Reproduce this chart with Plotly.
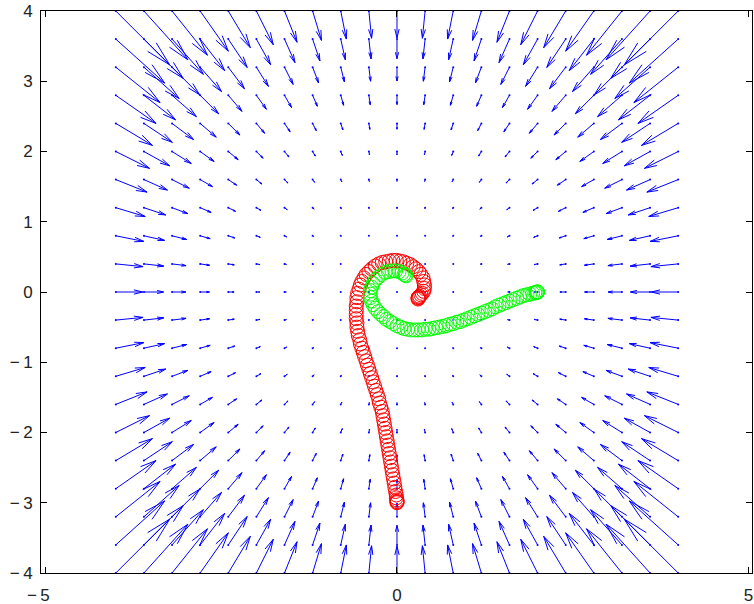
import numpy as np
import plotly.graph_objects as go

# ---- data ----
grid_x = [-4.0, -3.6, -3.2, -2.8, -2.4, -2.0, -1.6, -1.2, -0.8, -0.4, 0.0,
          0.4, 0.8, 1.2, 1.6, 2.0, 2.4, 2.8, 3.2, 3.6, 4.0]
grid_y = list(grid_x)
field_gain = 0.006  # arrow length = gain * r^3, pointing to origin

red_x = [0.00, 0.00, 0.00, 0.00, -0.01, -0.01, -0.02, -0.03, -0.04, -0.05,
         -0.06, -0.07, -0.08, -0.09, -0.10, -0.11, -0.12, -0.13, -0.14, -0.15,
         -0.16, -0.17, -0.18, -0.19, -0.20, -0.21, -0.23, -0.25, -0.26, -0.28,
         -0.30, -0.32, -0.34, -0.36, -0.38, -0.40, -0.42, -0.44, -0.46, -0.48,
         -0.50, -0.52, -0.53, -0.55, -0.56, -0.57, -0.57, -0.58, -0.58, -0.58,
         -0.58, -0.57, -0.57, -0.56, -0.54, -0.52, -0.50, -0.47, -0.44, -0.40,
         -0.36, -0.31, -0.26, -0.21, -0.16, -0.11, -0.06, -0.01, 0.04, 0.09,
         0.14, 0.19, 0.23, 0.27, 0.31, 0.34, 0.37, 0.38, 0.39, 0.39,
         0.38, 0.36, 0.34, 0.32, 0.31, 0.30, 0.30, 0.30]
red_y = [-3.00, -2.99, -2.98, -2.96, -2.93, -2.89, -2.84, -2.78, -2.72, -2.66,
         -2.60, -2.54, -2.48, -2.42, -2.36, -2.30, -2.24, -2.18, -2.12, -2.06,
         -2.00, -1.94, -1.88, -1.82, -1.76, -1.70, -1.64, -1.58, -1.52, -1.46,
         -1.40, -1.34, -1.28, -1.22, -1.16, -1.10, -1.04, -0.98, -0.92, -0.86,
         -0.80, -0.74, -0.68, -0.62, -0.56, -0.50, -0.44, -0.38, -0.32, -0.26,
         -0.20, -0.14, -0.08, -0.02, 0.04, 0.10, 0.15, 0.20, 0.25, 0.29,
         0.33, 0.37, 0.40, 0.42, 0.43, 0.44, 0.45, 0.45, 0.44, 0.43,
         0.41, 0.39, 0.36, 0.33, 0.29, 0.25, 0.20, 0.15, 0.10, 0.05,
         0.01, -0.02, -0.04, -0.06, -0.07, -0.08, -0.09, -0.10]

green_x = [2.00, 2.00, 1.99, 1.98, 1.96, 1.93, 1.89, 1.85, 1.80, 1.75,
           1.70, 1.65, 1.60, 1.55, 1.50, 1.45, 1.40, 1.35, 1.30, 1.25,
           1.20, 1.15, 1.10, 1.05, 1.00, 0.95, 0.90, 0.85, 0.80, 0.75,
           0.70, 0.65, 0.60, 0.55, 0.50, 0.45, 0.40, 0.35, 0.30, 0.25,
           0.20, 0.15, 0.10, 0.05, 0.00, -0.05, -0.10, -0.15, -0.19, -0.23,
           -0.27, -0.31, -0.34, -0.36, -0.38, -0.38, -0.38, -0.36, -0.34, -0.31,
           -0.27, -0.22, -0.17, -0.12, -0.07, -0.02, 0.03, 0.07, 0.10, 0.12,
           0.13]
green_y = [0.00, 0.00, 0.00, -0.01, -0.01, -0.02, -0.03, -0.04, -0.05, -0.07,
           -0.09, -0.11, -0.13, -0.15, -0.17, -0.19, -0.21, -0.24, -0.26, -0.28,
           -0.30, -0.32, -0.34, -0.36, -0.38, -0.40, -0.42, -0.43, -0.45, -0.46,
           -0.48, -0.49, -0.50, -0.51, -0.52, -0.53, -0.53, -0.54, -0.54, -0.54,
           -0.54, -0.53, -0.52, -0.50, -0.48, -0.45, -0.42, -0.39, -0.35, -0.32,
           -0.28, -0.23, -0.18, -0.13, -0.08, -0.03, 0.02, 0.07, 0.12, 0.17,
           0.21, 0.25, 0.28, 0.29, 0.30, 0.30, 0.29, 0.27, 0.25, 0.24,
           0.23]

x_ticks = [-5, 0, 5]
x_ticktext = ["\u2212\u20095\u00a0\u00a0\u00a0", "0", "5"]
y_ticks = [-4, -3, -2, -1, 0, 1, 2, 3, 4]
y_ticktext = ["\u2212\u20094", "\u2212\u20093", "\u2212\u20092", "\u2212\u20091",
              "0", "1", "2", "3", "4"]

# ---- quiver geometry ----
head_len = 0.33
head_wid = 0.24
lx, ly = [], []
for gx in grid_x:
    for gy in grid_y:
        r2 = gx * gx + gy * gy
        u = -field_gain * gx * r2
        v = -field_gain * gy * r2
        tx, ty = gx + u, gy + v
        lx += [gx, tx, None]
        ly += [gy, ty, None]
        lx += [tx - head_len * (u + head_wid * v), tx,
               tx - head_len * (u - head_wid * v), None]
        ly += [ty - head_len * (v - head_wid * u), ty,
               ty - head_len * (v + head_wid * u), None]

gxx = [gx for gx in grid_x for gy in grid_y]
gyy = [gy for gx in grid_x for gy in grid_y]

fig = go.Figure()
fig.add_trace(go.Scatter(x=lx, y=ly, mode="lines",
                         line=dict(color="#0000ff", width=1),
                         hoverinfo="skip", showlegend=False))
fig.add_trace(go.Scatter(x=gxx, y=gyy, mode="markers",
                         marker=dict(color="#0000ff", size=2),
                         hoverinfo="skip", showlegend=False))
fig.add_trace(go.Scatter(x=red_x, y=red_y, mode="markers",
                         marker=dict(symbol="circle-open", size=14,
                                     color="#ff0000", line=dict(width=1)),
                         showlegend=False))
fig.add_trace(go.Scatter(x=green_x, y=green_y, mode="markers",
                         marker=dict(symbol="circle-open", size=14,
                                     color="#00ff00", line=dict(width=1)),
                         showlegend=False))

axis_common = dict(showline=True, linecolor="black", linewidth=1,
                   mirror="allticks", ticks="inside", ticklen=6,
                   tickcolor="black", showgrid=False, zeroline=False,
                   automargin=False,
                   tickfont=dict(family="Liberation Sans, Arial", size=17,
                                 color="#222222"))
fig.update_xaxes(range=[-5.064, 5.05], tickvals=x_ticks, ticktext=x_ticktext,
                 ticklabelstandoff=7, **axis_common)
fig.update_yaxes(range=[-4, 4], tickvals=y_ticks, ticktext=y_ticktext,
                 ticklabelstandoff=4, **axis_common)
fig.update_layout(width=754, height=604,
                  margin=dict(l=41, r=2, t=11, b=31),
                  plot_bgcolor="white", paper_bgcolor="white")
fig.write_html("out.html", config={"displayModeBar": False},
               post_script="document.body.style.margin='0';"
                           "document.body.style.overflow='hidden';")
